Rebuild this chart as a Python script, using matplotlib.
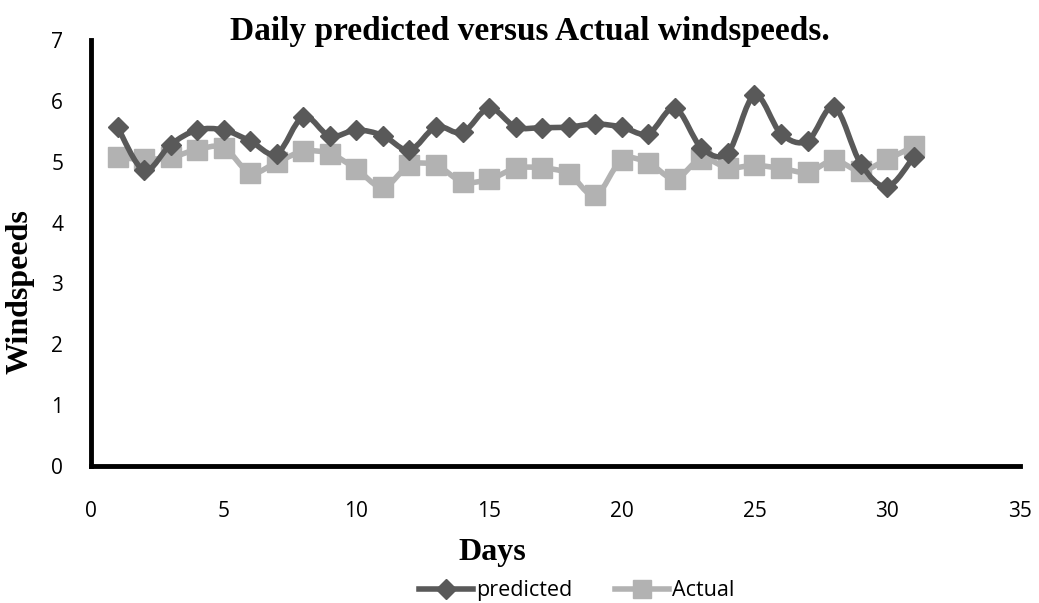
import numpy as np
import matplotlib.pyplot as plt
from matplotlib.path import Path
from matplotlib.patches import PathPatch
from matplotlib.lines import Line2D

days = list(range(1, 32))
predicted = [5.57, 4.86, 5.28, 5.52, 5.52, 5.34, 5.13, 5.74, 5.42, 5.52, 5.43, 5.19,
             5.57, 5.48, 5.88, 5.57, 5.56, 5.57, 5.62, 5.57, 5.46, 5.88, 5.23, 5.15,
             6.09, 5.46, 5.34, 5.90, 4.97, 4.59, 5.08]
actual = [5.07, 5.04, 5.07, 5.20, 5.23, 4.82, 4.99, 5.17, 5.13, 4.88, 4.58, 4.94,
          4.94, 4.67, 4.71, 4.89, 4.90, 4.80, 4.45, 5.03, 4.98, 4.72, 5.05, 4.90,
          4.94, 4.89, 4.83, 5.02, 4.85, 5.04, 5.25]
xticks = [0, 5, 10, 15, 20, 25, 30, 35]
yticks = [0, 1, 2, 3, 4, 5, 6, 7]

DARK = '#595959'
LIGHT = '#b2b2b2'
tick_font = 'Open Sans'
serif = 'Liberation Serif'


def smooth_path(x, y, t=1/6):
    # cubic bezier through the points, like a spreadsheet "smoothed line"
    x = np.asarray(x, float)
    y = np.asarray(y, float)
    verts = [(x[0], y[0])]
    codes = [Path.MOVETO]
    n = len(x)
    for i in range(n - 1):
        p0 = max(i - 1, 0)
        p3 = min(i + 2, n - 1)
        c1 = (x[i] + (x[i + 1] - x[p0]) * t, y[i] + (y[i + 1] - y[p0]) * t)
        c2 = (x[i + 1] - (x[p3] - x[i]) * t, y[i + 1] - (y[p3] - y[i]) * t)
        verts += [c1, c2, (x[i + 1], y[i + 1])]
        codes += [Path.CURVE4] * 3
    return Path(verts, codes)


fig = plt.figure(figsize=(10.39, 6.03), dpi=100)
ax = fig.add_axes([0.0876, 0.2272, 0.894, 0.7065])

ax.add_patch(PathPatch(smooth_path(days, actual), fill=False, ec=LIGHT, lw=4, zorder=2))
ax.plot(days, actual, ls='none', marker='s', ms=14, color=LIGHT, zorder=3)
ax.add_patch(PathPatch(smooth_path(days, predicted), fill=False, ec=DARK, lw=4, zorder=4))
ax.plot(days, predicted, ls='none', marker='D', ms=10, color=DARK, zorder=5)

ax.set_xlim(0, 35)
ax.set_ylim(0, 7)
ax.set_xticks(xticks)
ax.set_yticks(yticks)
ax.tick_params(length=0, labelsize=15)
ax.tick_params(axis='x', pad=25)
ax.tick_params(axis='y', pad=20)
for lab in ax.get_xticklabels() + ax.get_yticklabels():
    lab.set_fontfamily(tick_font)

for s in ['top', 'right']:
    ax.spines[s].set_visible(False)
for s in ['left', 'bottom']:
    ax.spines[s].set_linewidth(3.5)
    ax.spines[s].set_color('black')

fig.text(0.51, 0.947, 'Daily predicted versus Actual windspeeds.', ha='center', va='center',
         fontsize=24, fontweight='bold', family=serif)
fig.text(0.4735, 0.083, 'Days', ha='center', va='center', fontsize=23, fontweight='bold', family=serif)
fig.text(0.019, 0.516, 'Windspeeds', ha='center', va='center', rotation=90,
         fontsize=23, fontweight='bold', family=serif)

handles = [
    Line2D([], [], color=DARK, lw=4, marker='D', ms=10, label='predicted'),
    Line2D([], [], color=LIGHT, lw=4, marker='s', ms=13, label='Actual'),
]
fig.legend(handles=handles, loc='center', bbox_to_anchor=(0.555, 0.02), ncol=2, frameon=False,
           prop={'family': tick_font, 'size': 15.5}, handlelength=2.5, columnspacing=2.0,
           handletextpad=0.15, borderpad=0)

fig.savefig('out.png', dpi=100)
